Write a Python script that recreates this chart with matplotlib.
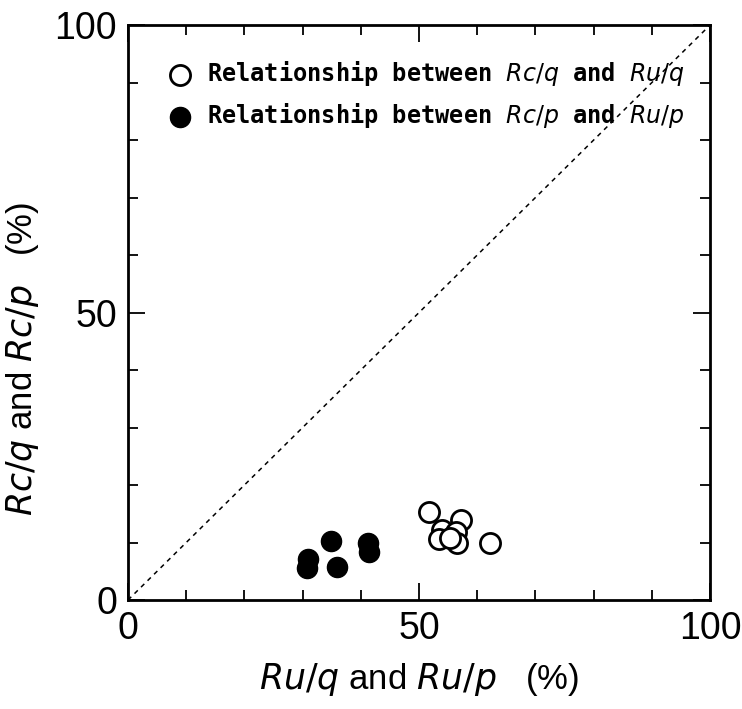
import matplotlib.pyplot as plt

# Ru/q vs Rc/q (open circles)
ru_q = [51.7, 57.2, 54.0, 53.4, 56.4, 56.5, 62.2, 55.3]
rc_q = [15.3, 13.9, 12.2, 10.6, 11.8, 9.9, 9.9, 10.8]

# Ru/p vs Rc/p (filled circles)
ru_p = [34.9, 30.9, 30.8, 35.9, 41.2, 41.4]
rc_p = [10.3, 7.1, 5.6, 5.7, 9.9, 8.3]

plt.rcParams['mathtext.fontset'] = 'dejavusans'
tick_font = ['Liberation Sans', 'DejaVu Sans']

fig = plt.figure(figsize=(7.42, 7.09), dpi=100)
ax = fig.add_axes([0.1725, 0.1537, 0.7845, 0.811])

# 1:1 line
ax.plot([0, 100], [0, 100], linestyle=(0, (3, 3)), color='black', linewidth=1.1)

ax.scatter(ru_q, rc_q, s=210, facecolors='white', edgecolors='black', linewidths=2.0,
           label=r'Relationship between $\mathit{Rc/q}$ and $\mathit{Ru/q}$', zorder=3)
ax.scatter(ru_p, rc_p, s=210, facecolors='black', edgecolors='black', linewidths=1.0,
           label=r'Relationship between $\mathit{Rc/p}$ and $\mathit{Ru/p}$', zorder=3)

ax.set_xlim(0, 100)
ax.set_ylim(0, 100)
ax.set_xticks([0, 50, 100])
ax.set_yticks([0, 50, 100])
ax.set_xticks(range(0, 101, 10), minor=True)
ax.set_yticks(range(0, 101, 10), minor=True)
ax.tick_params(which='both', direction='in', top=True, right=True, width=1.3)
ax.tick_params(which='major', length=12, pad=8)
ax.tick_params(which='minor', length=7)
for lab in ax.get_xticklabels() + ax.get_yticklabels():
    lab.set_family(tick_font)
    lab.set_fontsize(27)
for sp in ax.spines.values():
    sp.set_linewidth(2.0)

ax.set_xlabel(r'$\mathit{Ru/q}$ and $\mathit{Ru/p}$   (%)', fontsize=25, family=tick_font, labelpad=10)
ax.set_ylabel(r'$\mathit{Rc/q}$ and $\mathit{Rc/p}$   (%)', fontsize=25, family=tick_font)
ax.yaxis.set_label_coords(-0.15, 0.42)

leg = ax.legend(loc='upper left', bbox_to_anchor=(0.02, 0.97), frameon=False,
                prop={'family': 'DejaVu Sans Mono', 'weight': 'bold', 'size': 17},
                handletextpad=0.15, labelspacing=0.55, borderpad=0.2)

fig.savefig('out.png', dpi=100)
